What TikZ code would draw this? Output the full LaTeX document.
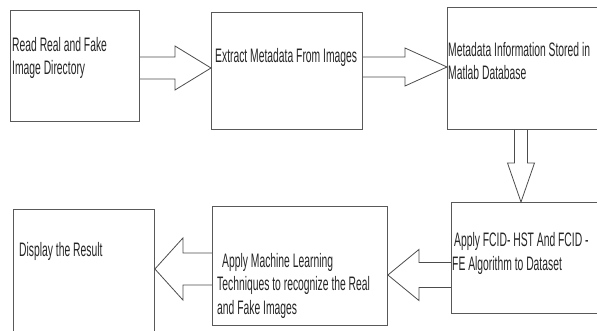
\documentclass[tikz,border=0pt]{standalone}
\usepackage{fontspec}
\newfontfamily\flowfont[FakeStretch=0.53]{Liberation Sans}
\usetikzlibrary{calc}

\tikzset{
	box/.style={draw=black!65, line width=0.9pt, anchor=north west, inner sep=0pt},
	boxtext/.style={anchor=base west, align=left, inner sep=0pt, text=black!85,
		font=\flowfont\fontsize{19.5}{23.5}\selectfont},
	blockarr/.style={draw=black!70, line width=0.8pt}
}

\newcommand{\blockarrow}[5]{%
	\coordinate (headbase) at ($(#2)!#5!(#1)$);
	\draw[blockarr] ($(#1)!#3!90:(#2)$) -- ($(headbase)!#3!90:(#2)$)
		-- ($(headbase)!#4!90:(#2)$) -- (#2) -- ($(headbase)!#4!-90:(#2)$)
		-- ($(headbase)!#3!-90:(#2)$) -- ($(#1)!#3!-90:(#2)$);
}

\begin{document}
\begin{tikzpicture}[x=1pt, y=-1pt]
	\useasboundingbox (0,0) rectangle (597,331);
	\clip (0,0) rectangle (597,331);

	\node[box, minimum width=129, minimum height=111] (readdir) at (10,10) {};
	\node[box, minimum width=151, minimum height=117] (extract) at (211,12) {};
	\node[box, minimum width=160, minimum height=122] (stored) at (447,7) {};
	\node[box, minimum width=160, minimum height=111] (apply) at (451,202) {};
	\node[box, minimum width=175, minimum height=119] (learning) at (212,206) {};
	\node[box, minimum width=141, minimum height=140] (display) at (13,209) {};

	% base anchor sits on the last line
	\node[boxtext] (readdirtext) at (12,75) {Read Real and Fake\\Image Directory};
	\node[boxtext] (extracttext) at (215,63) {Extract Metadata From Images};
	\node[boxtext] (storedtext) at (448,80) {Metadata Information Stored in\\Matlab Database};
	\node[boxtext] (applytext) at (452,270) {\hspace*{2pt}Apply FCID- HST And FCID -\\FE Algorithm to Dataset};
	\node[boxtext] (learningtext) at (217,314) {\hspace*{5pt}Apply Machine Learning\\Techniques to recognize the Real\\and Fake Images};
	\node[boxtext] (displaytext) at (19,257) {Display the Result};

	\coordinate (s1) at (readdir.east |- 0,68);
	\coordinate (t1) at (extract.west |- 0,68);
	\coordinate (s2) at (extract.east |- 0,67);
	\coordinate (t2) at (stored.west |- 0,67);
	\coordinate (s3) at (stored.south -| 521,0);
	\coordinate (t3) at (apply.north -| 521,0);
	\coordinate (s4) at (apply.west |- 0,275);
	\coordinate (t4) at (learning.east |- 0,275);
	\coordinate (s5) at (learning.west |- 0,269);
	\coordinate (t5) at (display.east |- 0,269);

	\blockarrow{s1}{t1}{11pt}{22pt}{36pt}
	\blockarrow{s2}{t2}{10pt}{19pt}{42pt}
	\blockarrow{s3}{t3}{6.5pt}{13.5pt}{39pt}
	\blockarrow{s4}{t4}{12.5pt}{25.5pt}{31pt}
	\blockarrow{s5}{t5}{16pt}{31pt}{28pt}
\end{tikzpicture}
\end{document}
